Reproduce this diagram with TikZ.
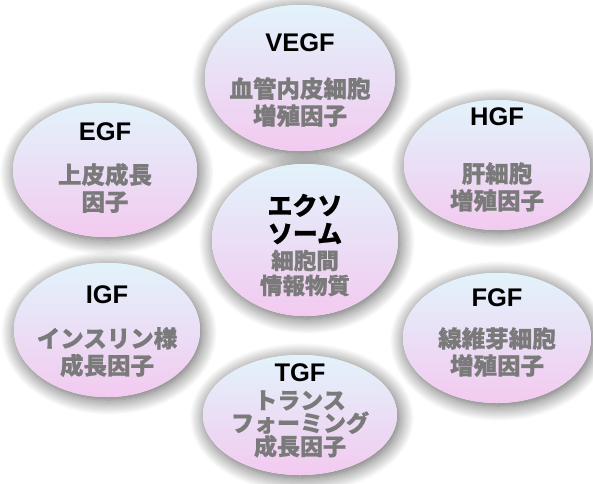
\documentclass[tikz,border=0pt]{standalone}
\usepackage{fontspec}
\newfontfamily\jp{Noto Sans CJK JP}[BoldFeatures={FakeBold=0.7}]
\newfontfamily\lat{Liberation Sans}
\usetikzlibrary{shapes.geometric,shadows.blur}
\definecolor{topc}{RGB}{226,243,251}
\definecolor{midc}{RGB}{238,240,250}
\definecolor{botc}{RGB}{243,202,240}
\definecolor{txtgray}{RGB}{122,122,122}
\tikzset{
  bub/.style={ellipse, inner sep=0pt, draw=none, top color=topc, middle color=midc, bottom color=botc},
  shad/.style={fill=white, blur shadow={shadow xshift=2pt, shadow yshift=-3pt, shadow blur radius=15pt, shadow blur steps=14, shadow opacity=65}},
  ttl/.style={font=\lat\bfseries\fontsize{25.5}{28}\selectfont, text=black, align=center, inner sep=0pt},
  jttl/.style={font=\jp\bfseries\fontsize{25}{28}\selectfont, text=black, align=center, inner sep=0pt},
  sub/.style={font=\jp\bfseries\fontsize{23.5}{27}\selectfont, text=txtgray, align=center, inner sep=0pt},
}
\begin{document}
\begin{tikzpicture}[x=1pt,y=-1pt]
\useasboundingbox (0,0) rectangle (593,483);
% shadows
\path[shad] (300,78) ellipse [x radius=95, y radius=73];
\path[shad] (105,170) ellipse [x radius=92, y radius=67];
\path[shad] (497,165) ellipse [x radius=93, y radius=65];
\path[shad] (305,240) ellipse [x radius=93, y radius=76];
\path[shad] (107,330) ellipse [x radius=93, y radius=67];
\path[shad] (497,338) ellipse [x radius=94, y radius=65];
\path[shad] (300,415) ellipse [x radius=97, y radius=60];
% bubbles
\node[bub, minimum width=190pt, minimum height=146pt] (vegf) at (300,78) {};
\node[bub, minimum width=184pt, minimum height=134pt] (egf) at (105,170) {};
\node[bub, minimum width=186pt, minimum height=130pt] (hgf) at (497,165) {};
\node[bub, minimum width=186pt, minimum height=152pt] (exo) at (305,240) {};
\node[bub, minimum width=186pt, minimum height=134pt] (igf) at (107,330) {};
\node[bub, minimum width=188pt, minimum height=130pt] (fgf) at (497,338) {};
\node[bub, minimum width=194pt, minimum height=120pt] (tgf) at (300,415) {};
% texts
\node[ttl] (vegf-t) at (300,43) {VEGF};
\node[sub] (vegf-s) at (300,102) {血管内皮細胞\\増殖因子};
\node[ttl] (egf-t) at (105,132) {EGF};
\node[sub] (egf-s) at (105,188) {上皮成長\\因子};
\node[ttl] (hgf-t) at (497,117) {HGF};
\node[sub] (hgf-s) at (497,187) {肝細胞\\増殖因子};
\node[jttl] (exo-t) at (305,219) {エクソ\\ソーム};
\node[sub, font=\jp\bfseries\fontsize{22.5}{25}\selectfont] (exo-s) at (305,273) {細胞間\\情報物質};
\node[ttl] (igf-t) at (107,295) {IGF};
\node[sub] (igf-s) at (107,352) {インスリン様\\成長因子};
\node[ttl] (fgf-t) at (497,298) {FGF};
\node[sub] (fgf-s) at (497,352) {線維芽細胞\\増殖因子};
\node[ttl] (tgf-t) at (300,373) {TGF};
\node[sub, font=\jp\bfseries\fontsize{23}{21}\selectfont] (tgf-s) at (300,424) {トランス\\フォーミング\\成長因子};
\end{tikzpicture}
\end{document}
